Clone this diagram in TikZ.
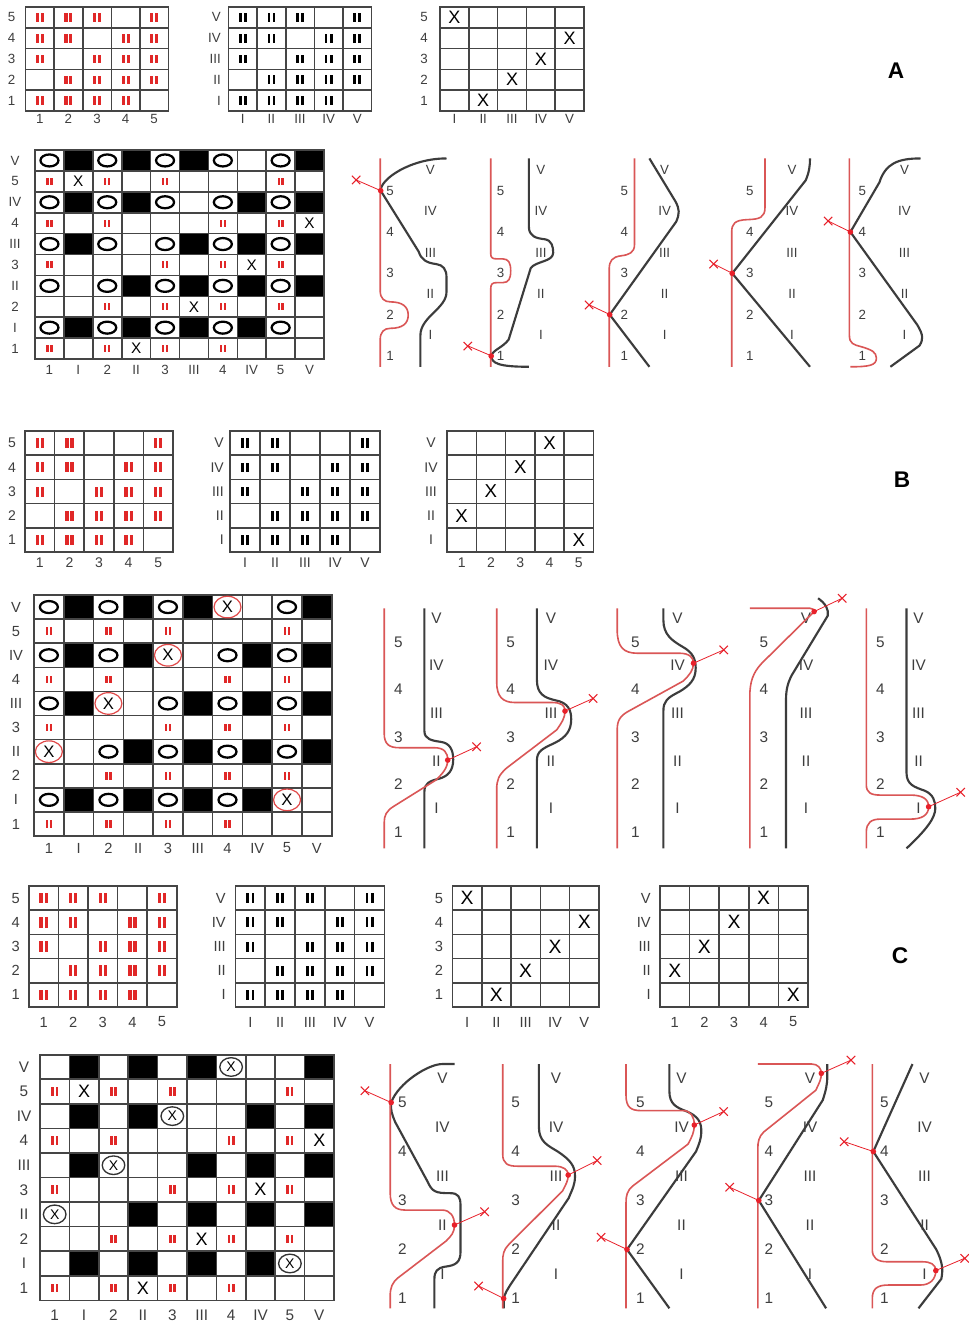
\documentclass[tikz,border=0pt]{standalone}
\usepackage{fontspec}
\setmainfont{Liberation Sans}
\usetikzlibrary{shapes.misc}
\definecolor{labgray}{HTML}{3E3E3E}
\definecolor{gridgray}{HTML}{454545}
\definecolor{markred}{HTML}{E02828}
\definecolor{curvered}{HTML}{DA5656}
\definecolor{dotred}{HTML}{E8202A}
\definecolor{curveblk}{HTML}{3C3C3C}
\definecolor{ringred}{HTML}{E04848}
\definecolor{ringblk}{HTML}{333333}
\tikzset{
  gridln/.style={draw=gridgray,line width=1.2pt,line cap=rect},
  lab/.style={text=labgray,inner sep=0pt},
  plab/.style={text=labgray,inner sep=0pt},
  xmk/.style={inner sep=0pt,text=black},
  secl/.style={inner sep=0pt,font=\bfseries\fontsize{17}{17}\selectfont},
  blk/.style={draw=curveblk,line width=1.6pt,line join=round},
  rd/.style={draw=curvered,line width=1.2pt,line join=round},
  rdot/.style={circle,fill=dotred,inner sep=0pt,minimum size=4.2pt},
  rcross/.style={cross out,draw=dotred,line width=0.8pt,inner sep=0pt,minimum size=5.5pt},
  conn/.style={draw=dotred,line width=0.6pt},
  omk/.style={draw=black,line width=1.7pt},
}
\def\patA{{1,1,1,0,1,1,1,0,1,1,1,0,1,1,1,0,1,1,1,1,1,1,1,1,0}}
\def\patB{{1,1,0,0,1,1,1,0,1,1,1,0,1,1,1,0,1,1,1,1,1,1,1,1,0}}
\def\xA{{1,5,4,3,2}}
\def\xB{{4,3,2,1,5}}
% x0 y0 ncols nrows cw rh
\newcommand\gridlines[6]{%
  \foreach \gi in {0,...,#3}{\draw[gridln] ({#1+\gi*#5},#2) -- ({#1+\gi*#5},{#2+#4*#6});}%
  \foreach \gj in {0,...,#4}{\draw[gridln] (#1,{#2+\gj*#6}) -- ({#1+#3*#5},{#2+\gj*#6});}%
}
% color cx cy hw hh gap
\newcommand\fillbars[6]{%
  \fill[#1] ({#2-#4},{#3-#5}) rectangle ({#2-#6},{#3+#5});%
  \fill[#1] ({#2+#6},{#3-#5}) rectangle ({#2+#4},{#3+#5});}
% x0 y0 cw rh pattern color hw hh gap
\newcommand\patgrid[9]{%
  \foreach \ir in {0,...,4}{\foreach \ic in {0,...,4}{%
    \pgfmathtruncatemacro\vv{#5[\ir*5+\ic]}%
    \ifnum\vv=1\relax\fillbars{#6}{#1+(\ic+0.5)*#3}{#2+(\ir+0.5)*#4}{#7}{#8}{#9}\fi}}%
  \gridlines{#1}{#2}{5}{5}{#3}{#4}}
% name x0 y0 cw rh list fontsize
\newcommand\xgrid[7]{%
  \foreach \xc [count=\ir from 0] in {#6}{%
    \node[xmk,font=\fontsize{#7}{#7}\selectfont] (#1-\ir) at ({#2+(\xc-0.5)*#4},{#3+(\ir+0.5)*#5}) {X};}%
  \gridlines{#2}{#3}{5}{5}{#4}{#5}}
% name x y0 rh list anchor fontsize
\newcommand\rowlabs[7]{%
  \foreach \lbl [count=\ir from 0] in {#5}{%
    \node[lab,anchor=#6,font=\fontsize{#7}{#7}\selectfont] (#1-\ir) at (#2,{#3+(\ir+0.5)*#4}) {\lbl};}}
% name x0 cw y list fontsize
\newcommand\collabs[6]{%
  \foreach \lbl [count=\ir from 0] in {#5}{%
    \node[lab,font=\fontsize{#6}{#6}\selectfont] (#1-\ir) at ({#2+(\ir+0.5)*#3},#4) {\lbl};}}
% name x0 y0 cw rh variant
\newcommand\biggrid[6]{%
  \foreach \RR in {0,2,...,8}{\foreach \CC in {1,3,...,9}{%
    \pgfmathtruncatemacro\ri{\RR/2}\pgfmathtruncatemacro\ci{(\CC-1)/2}%
    \pgfmathtruncatemacro\vv{\patA[\ri*5+\ci]}%
    \ifnum\vv=1\relax\fill[black] ({#2+\CC*#4},{#3+\RR*#5}) rectangle ({#2+(\CC+1)*#4},{#3+(\RR+1)*#5});\fi}}%
  \gridlines{#2}{#3}{10}{10}{#4}{#5}%
  \foreach \RR in {1,3,...,9}{\foreach \CC in {0,2,...,8}{%
    \pgfmathtruncatemacro\ri{(\RR-1)/2}\pgfmathtruncatemacro\ci{\CC/2}%
    \pgfmathtruncatemacro\vv{\patA[\ri*5+\ci]}%
    \ifnum\vv=1\relax\fillbars{markred}{#2+(\CC+0.5)*#4}{#3+(\RR+0.5)*#5}{\bhw}{\bhh}{0.8}\fi}}%
  \ifnum#6=2\relax\else
  \foreach \RR in {1,3,...,9}{\foreach \CC in {1,3,...,9}{%
    \pgfmathtruncatemacro\ri{(\RR-1)/2}\pgfmathtruncatemacro\ci{(\CC-1)/2}%
    \pgfmathtruncatemacro\xx{\xA[\ri]}%
    \ifnum\xx=\numexpr\ci+1\relax\node[xmk,font=\fontsize{\bxf}{\bxf}\selectfont] (#1-x\RR-\CC) at ({#2+(\CC+0.5)*#4},{#3+(\RR+0.5)*#5}) {X};\fi}}%
  \fi
  \foreach \RR in {0,2,...,8}{\foreach \CC in {0,2,...,8}{%
    \pgfmathtruncatemacro\ri{\RR/2}\pgfmathtruncatemacro\ci{\CC/2}%
    \pgfmathtruncatemacro\xx{\xB[\ri]}%
    \pgfmathsetmacro\cx{#2+(\CC+0.5)*#4}\pgfmathsetmacro\cy{#3+(\RR+0.5)*#5}%
    \ifnum\xx=\numexpr\ci+1\relax
      \ifcase#6\or
        \draw[omk] (\cx,\cy) ellipse [x radius=9,y radius=6];%
      \or
        \draw[draw=ringred,line width=0.9pt] (\cx,\cy) ellipse [x radius=13.5,y radius=10.8];%
        \node[xmk,font=\fontsize{12.5}{12.5}\selectfont] (#1-o\RR-\CC) at (\cx,\cy) {X};%
      \or
        \draw[draw=ringblk,line width=1pt] (\cx,\cy) ellipse [x radius=11.3,y radius=9.3];%
        \node[xmk,font=\fontsize{10.5}{10.5}\selectfont] (#1-o\RR-\CC) at (\cx,\cy) {X};%
      \fi
    \else
      \ifnum#6<3\relax\draw[omk] (\cx,\cy) ellipse [x radius=9,y radius=6];\fi
    \fi}}%
}
% name xa xR fontsize
\newcommand\panellabs[4]{%
  \foreach \lbl [count=\kk from 0] in {5,4,3,2,1}{\node[plab,font=\fontsize{#4}{#4}\selectfont] (#1-a\kk) at (#2,{2*\kk+1}) {\lbl};}%
  \foreach \lbl [count=\kk from 0] in {V,IV,III,II,I}{\node[plab,font=\fontsize{#4}{#4}\selectfont] (#1-r\kk) at (#3,{2*\kk}) {\lbl};}}
% name dotx doty crossx crossy
\newcommand\marker[5]{%
  \node[rcross] (#1x) at (#4,#5) {};%
  \node[rdot] (#1d) at (#2,#3) {};%
  \draw[conn] (#1d.center) -- (#1x.center);}

\begin{document}
\begin{tikzpicture}[x=0.75pt,y=-0.75pt]
\useasboundingbox (0,0) rectangle (969,1321);
\fill[white] (0,0) rectangle (969,1321);

% ================= A =================
\patgrid{25.5}{7}{28.6}{20.8}{\patA}{markred}{4}{4.3}{0.9}
\rowlabs{g1a}{11.5}{7}{20.8}{5,4,3,2,1}{center}{10}
\collabs{g1ac}{25.5}{28.6}{119}{1,2,3,4,5}{10}
\patgrid{228.5}{7}{28.6}{20.8}{\patA}{black}{3.9}{4.4}{1.2}
\rowlabs{g2a}{221}{7}{20.8}{V,IV,III,II,I}{east}{10}
\collabs{g2ac}{228.5}{28.6}{119}{I,II,III,IV,V}{10}
\xgrid{g3a}{440}{7}{28.8}{20.8}{1,5,4,3,2}{13.5}
\rowlabs{g3al}{424}{7}{20.8}{5,4,3,2,1}{center}{10}
\collabs{g3ac}{440}{28.8}{119}{I,II,III,IV,V}{10}
\node[secl] (secA) at (896,71) {A};

\def\bhw{3.1}\def\bhh{3.5}\def\bxf{11.5}
\biggrid{bga}{35}{150}{28.9}{20.9}{1}
\rowlabs{bgar}{15}{150}{20.9}{V,5,IV,4,III,3,II,2,I,1}{center}{10}
\collabs{bgac}{35}{28.9}{370}{1,I,2,II,3,III,4,IV,5,V}{10}

\def\ttop{-0.56}\def\tbot{9.52}
\begin{scope}[shift={(380.2,170)},yscale=20.67]
 \panellabs{pa1}{10}{50.2}{10}
 \draw[blk] (66.3,\ttop) .. controls (30,\ttop) and (0,0.45) .. (0.5,1) -- (38.5,3.95) .. controls (41,4.35) and (47,4.5) .. (56,4.55) .. controls (63,4.6) and (66.3,4.8) .. (66.3,5.2) -- (66.3,5.9) .. controls (66.3,6.7) and (40.2,7.1) .. (40.2,8.0) -- (40.2,\tbot);
 \draw[rd] (0,\ttop) -- (0,5.85) .. controls (0,6.2) and (4,6.38) .. (10,6.38) .. controls (22,6.38) and (28,6.6) .. (28,7.02) .. controls (28,7.44) and (22,7.66) .. (10,7.66) .. controls (4,7.66) and (0,7.84) .. (0,8.2) -- (0,\tbot);
 \marker{pa1}{0.5}{1}{-24.1}{0.48}
\end{scope}
\begin{scope}[shift={(490.7,170)},yscale=20.67]
 \panellabs{pa2}{10}{50.2}{10}
 \draw[blk] (38.2,\ttop) -- (38.2,2.75) .. controls (38.2,3.2) and (45,3.3) .. (54,3.35) .. controls (61,3.4) and (62.5,3.7) .. (62.5,4.0) .. controls (62.5,4.45) and (45,4.4) .. (40,4.75) -- (18,8.2) .. controls (12,8.6) and (2,8.7) .. (0.5,9.0) .. controls (1,9.35) and (8,\tbot) .. (38.2,\tbot);
 \draw[rd] (0,\ttop) -- (0,4.05) .. controls (0,4.25) and (2,4.3) .. (6,4.3) -- (12,4.3) .. controls (18,4.3) and (20,4.5) .. (20,4.88) .. controls (20,5.26) and (18,5.45) .. (12,5.45) -- (6,5.45) .. controls (2,5.45) and (0,5.5) .. (0,5.75) -- (0,\tbot);
 \marker{pa2}{0.5}{9}{-22.9}{8.52}
\end{scope}
\begin{scope}[shift={(609.2,170)},yscale=20.67]
 \panellabs{pa3}{15.2}{55.4}{10}
 \draw[blk] (40.2,\ttop) -- (66,1.5) .. controls (70.5,1.9) and (70.5,2.1) .. (67,2.5) -- (0.5,7) -- (40.2,\tbot);
 \draw[rd] (25.3,\ttop) -- (25.3,3.6) .. controls (25.3,4.0) and (20,4.1) .. (12,4.15) .. controls (3,4.2) and (0,4.4) .. (0,4.8) -- (0,\tbot);
 \marker{pa3}{0.5}{7}{-20.1}{6.53}
\end{scope}
\begin{scope}[shift={(731.7,170)},yscale=20.67]
 \panellabs{pa4}{18.1}{60.3}{10}
 \draw[blk] (78.3,\ttop) .. controls (78.3,-0.2) and (77.5,0.1) .. (74,0.5) -- (0.5,5) -- (78.3,\tbot);
 \draw[rd] (33.3,\ttop) -- (33.3,1.8) .. controls (33.3,2.3) and (28,2.38) .. (16,2.4) .. controls (3,2.42) and (0,2.6) .. (0,3.0) -- (0,\tbot);
 \marker{pa4}{0.5}{5}{-18.1}{4.55}
\end{scope}
\begin{scope}[shift={(849.4,170)},yscale=20.67]
 \panellabs{pa5}{12.9}{55.1}{10}
 \draw[blk] (71.1,\ttop) .. controls (48,\ttop) and (36,-0.3) .. (30,0.6) -- (1,3) -- (68,7.5) .. controls (74,8.0) and (74,8.2) .. (70,8.5) -- (41,\tbot);
 \draw[rd] (0,\ttop) -- (0,8.0) .. controls (0,8.4) and (4,8.45) .. (12,8.55) .. controls (22,8.7) and (27,8.8) .. (27,9.1) .. controls (27,9.45) and (20,\tbot) .. (1,\tbot);
 \marker{pa5}{1}{3}{-21.3}{2.47}
\end{scope}

% ================= B =================
\patgrid{25}{431}{29.6}{24.2}{\patB}{markred}{4.2}{5}{0.9}
\rowlabs{g1b}{12}{431}{24.2}{5,4,3,2,1}{center}{10.5}
\collabs{g1bc}{25}{29.6}{563}{1,2,3,4,5}{10.5}
\patgrid{230}{431}{30}{24.2}{\patB}{black}{4}{4.8}{1.2}
\rowlabs{g2b}{224}{431}{24.2}{V,IV,III,II,I}{east}{10.5}
\collabs{g2bc}{230}{30}{563}{I,II,III,IV,V}{10.5}
\xgrid{g3b}{447}{431}{29.3}{24.2}{4,3,2,1,5}{14}
\rowlabs{g3bl}{431}{431}{24.2}{V,IV,III,II,I}{center}{10.5}
\collabs{g3bc}{447}{29.3}{563}{1,2,3,4,5}{10.5}
\node[secl] (secB) at (902,480) {B};

\def\bhw{3.3}\def\bhh{3.8}\def\bxf{12}
\biggrid{bgb}{34}{595}{29.77}{24.1}{2}
\rowlabs{bgbr}{16}{595}{24.1}{V,5,IV,4,III,3,II,2,I,1}{center}{11}
\collabs{bgbc}{34}{29.77}{848}{1,I,2,II,3,III,4,IV,5,V}{11}

\def\ttop{-0.41}\def\tbot{9.68}
\begin{scope}[shift={(384.2,618)},yscale=23.8]
 \panellabs{pb1}{14.1}{52.2}{11.5}
 \draw[blk] (40.2,\ttop) -- (40.2,4.75) .. controls (40.2,5.1) and (48,5.15) .. (56,5.2) .. controls (66,5.25) and (69,5.55) .. (69,5.95) .. controls (69,6.4) and (64,6.65) .. (55,6.75) .. controls (45,6.85) and (40.2,6.95) .. (40.2,7.3) -- (40.2,\tbot);
 \draw[rd] (0,\ttop) -- (0,4.85) .. controls (0,5.3) and (5,5.45) .. (15,5.45) -- (50,5.45) .. controls (60,5.45) and (63.5,5.65) .. (63.5,5.97) .. controls (63.5,6.3) and (58,6.55) .. (52,6.8) -- (10,7.9) .. controls (2,8.1) and (0,8.3) .. (0,8.6) -- (0,\tbot);
 \marker{pb1}{63.5}{5.97}{92.4}{5.41}
\end{scope}
\begin{scope}[shift={(496.7,618)},yscale=23.8]
 \panellabs{pb2}{14}{54.2}{11.5}
 \draw[blk] (40.2,\ttop) -- (40.2,2.6) .. controls (40.2,3.2) and (48,3.35) .. (58,3.45) .. controls (72,3.55) and (74.5,3.9) .. (74.5,4.25) .. controls (74.5,4.7) and (70,5.0) .. (58,5.25) .. controls (45,5.5) and (40.2,5.6) .. (40.2,6.0) -- (40.2,\tbot);
 \draw[rd] (0,\ttop) -- (0,2.7) .. controls (0,3.3) and (6,3.55) .. (18,3.55) -- (55,3.55) .. controls (64,3.55) and (68.3,3.65) .. (68.3,3.91) .. controls (68.3,4.2) and (65,4.4) .. (60,4.7) -- (10,6.3) .. controls (2,6.6) and (0,6.8) .. (0,7.2) -- (0,\tbot);
 \marker{pb2}{68.3}{3.91}{96.4}{3.38}
\end{scope}
\begin{scope}[shift={(617.2,618)},yscale=23.8]
 \panellabs{pb3}{18.1}{60.3}{11.5}
 \draw[blk] (46.2,\ttop) -- (46.2,0.1) .. controls (46.2,0.7) and (55,0.95) .. (65,1.2) .. controls (76,1.45) and (78.5,1.75) .. (78.5,2.1) .. controls (78.5,2.6) and (72,2.85) .. (62,3.1) .. controls (50,3.35) and (46.2,3.5) .. (46.2,3.9) -- (46.2,\tbot);
 \draw[rd] (0,\ttop) -- (0,0.5) .. controls (0,1.2) and (6,1.48) .. (20,1.48) -- (62,1.48) .. controls (72,1.48) and (76.3,1.65) .. (76.3,1.9) .. controls (76.3,2.2) and (72,2.4) .. (66,2.65) -- (12,3.9) .. controls (3,4.1) and (0,4.3) .. (0,4.7) -- (0,\tbot);
 \marker{pb3}{76.3}{1.9}{106.5}{1.34}
\end{scope}
\begin{scope}[shift={(749.8,618)},yscale=23.8]
 \panellabs{pb4}{14.1}{56.2}{11.5}
 \draw[blk] (68.3,-0.83) .. controls (76,-0.6) and (79,-0.35) .. (78,-0.1) -- (42,2.4) .. controls (37,2.8) and (36.2,3.1) .. (36.2,3.5) -- (36.2,\tbot);
 \draw[rd] (0,\ttop) -- (60,\ttop) .. controls (63,\ttop) and (64.3,-0.35) .. (64.3,-0.27) -- (12,1.9) .. controls (3,2.3) and (0,2.7) .. (0,3.3) -- (0,\tbot);
 \marker{pb4}{64.3}{-0.27}{92.4}{-0.83}
\end{scope}
\begin{scope}[shift={(866.3,618)},yscale=23.8]
 \panellabs{pb5}{14.1}{52.2}{11.5}
 \draw[blk] (40.2,\ttop) -- (40.2,6.5) .. controls (40.2,7.0) and (48,7.1) .. (58,7.25) .. controls (67,7.4) and (69,7.7) .. (69,8.0) .. controls (69,8.4) and (60,8.9) .. (40.2,\tbot);
 \draw[rd] (0,\ttop) -- (0,7.0) .. controls (0,7.35) and (5,7.44) .. (14,7.44) -- (44,7.44) .. controls (56,7.44) and (62.3,7.6) .. (62.3,7.93) .. controls (62.3,8.3) and (55,8.45) .. (44,8.45) -- (14,8.45) .. controls (5,8.45) and (0,8.6) .. (0,9.0) -- (0,\tbot);
 \marker{pb5}{62.3}{7.93}{94.4}{7.32}
\end{scope}

% ================= C =================
\patgrid{28.8}{886}{29.6}{24.2}{\patA}{markred}{4.2}{5.3}{0.9}
\rowlabs{g1c}{15.7}{886}{24.2}{5,4,3,2,1}{center}{11}
\collabs{g1cc}{28.8}{29.6}{1022}{1,2,3,4,5}{11}
\patgrid{235.4}{886}{29.8}{24.2}{\patA}{black}{4}{5}{1.2}
\rowlabs{g2c}{226}{886}{24.2}{V,IV,III,II,I}{east}{11}
\collabs{g2cc}{235.4}{29.8}{1022}{I,II,III,IV,V}{11}
\xgrid{g3c}{452.4}{886}{29.3}{24.2}{1,5,4,3,2}{14.5}
\rowlabs{g3cl}{439}{886}{24.2}{5,4,3,2,1}{center}{11}
\collabs{g3cc}{452.4}{29.3}{1022}{I,II,III,IV,V}{11}
\xgrid{g4c}{660}{886}{29.6}{24.2}{4,3,2,1,5}{14.5}
\rowlabs{g4cl}{651}{886}{24.2}{V,IV,III,II,I}{east}{11}
\collabs{g4cc}{660}{29.6}{1022}{1,2,3,4,5}{11}
\node[secl] (secC) at (900,956) {C};

\def\bhw{3.5}\def\bhh{4.4}\def\bxf{13.5}
\biggrid{bgc}{40}{1054.7}{29.4}{24.56}{3}
\rowlabs{bgcr}{24}{1054.7}{24.56}{V,5,IV,4,III,3,II,2,I,1}{center}{11.5}
\collabs{bgcc}{40}{29.4}{1315}{1,I,2,II,3,III,4,IV,5,V}{11.5}

\def\ttop{-0.57}\def\tbot{9.4}
\begin{scope}[shift={(390.2,1078)},yscale=24.5]
 \panellabs{pc1}{12.1}{52.2}{11.5}
 \draw[blk] (64.3,\ttop) -- (52,\ttop) .. controls (38,\ttop) and (8,0.2) .. (1,1) .. controls (0,1.3) and (2,1.5) .. (5,1.8) -- (37,4.2) .. controls (42,4.65) and (45,4.7) .. (60,4.7) .. controls (68,4.7) and (70.3,4.85) .. (70.3,5.2) -- (70.3,7.1) .. controls (70.3,7.5) and (66,7.65) .. (55,7.7) .. controls (47,7.75) and (44.2,7.9) .. (44.2,8.2) -- (44.2,\tbot);
 \draw[rd] (0,\ttop) -- (0,4.7) .. controls (0,5.2) and (5,5.39) .. (15,5.39) -- (52,5.39) .. controls (60,5.39) and (64.3,5.65) .. (64.3,6.0) .. controls (64.3,6.3) and (61,6.45) .. (56,6.65) -- (8,8.15) .. controls (2,8.35) and (0,8.55) .. (0,8.9) -- (0,\tbot);
 \marker{pc1a}{1}{1}{-25.3}{0.52}
 \marker{pc1b}{64.3}{6.0}{94.4}{5.46}
\end{scope}
\begin{scope}[shift={(502.7,1078)},yscale=24.5]
 \panellabs{pc2}{12.9}{53.3}{11.5}
 \draw[blk] (36.2,\ttop) -- (36.2,2.0) .. controls (36.2,2.6) and (45,2.75) .. (55,3.0) .. controls (68,3.35) and (72.3,3.6) .. (72.3,4.0) .. controls (72.3,4.35) and (70,4.5) .. (66,4.9) -- (10,8.3) .. controls (5,8.6) and (2,8.8) .. (1,9.0) -- (1,\tbot);
 \draw[rd] (0,\ttop) -- (0,3.1) .. controls (0,3.5) and (5,3.6) .. (15,3.6) -- (52,3.6) .. controls (61,3.6) and (65.5,3.75) .. (65.5,3.96) .. controls (65.5,4.2) and (63,4.35) .. (60,4.6) -- (6,6.8) .. controls (1,7.0) and (0,7.2) .. (0,7.5) -- (0,\tbot);
 \marker{pc2a}{1}{9.0}{-24.1}{8.49}
 \marker{pc2b}{65.5}{3.96}{94.4}{3.37}
\end{scope}
\begin{scope}[shift={(626,1078)},yscale=24.5]
 \panellabs{pc3}{14.5}{55.5}{11.5}
 \draw[blk] (43.4,\ttop) -- (43.4,0.55) .. controls (43.4,1.05) and (50,1.2) .. (60,1.35) .. controls (72,1.55) and (75.3,1.8) .. (75.3,2.15) .. controls (75.3,2.5) and (73,2.7) .. (70,3.0) -- (1,7) -- (43.4,\tbot);
 \draw[rd] (0,\ttop) -- (0,0.7) .. controls (0,1.2) and (5,1.33) .. (15,1.33) -- (57,1.33) .. controls (65,1.33) and (68.3,1.6) .. (68.3,1.92) .. controls (68.3,2.2) and (66,2.4) .. (62,2.7) -- (7,4.4) .. controls (1,4.6) and (0,4.8) .. (0,5.1) -- (0,\tbot);
 \marker{pc3a}{1}{7}{-24.9}{6.5}
 \marker{pc3b}{68.3}{1.92}{97.6}{1.37}
\end{scope}
\begin{scope}[shift={(757.8,1078)},yscale=24.5]
 \panellabs{pc4}{11.2}{52.2}{11.5}
 \draw[blk] (69.5,\ttop) -- (69.5,-0.1) .. controls (69.5,0.3) and (68,0.5) .. (65,0.9) -- (1,5) -- (68.3,\tbot);
 \draw[rd] (0,\ttop) -- (54,\ttop) .. controls (60,\ttop) and (63.5,-0.4) .. (63.5,-0.19) .. controls (63.5,0.05) and (62,0.15) .. (58,0.5) -- (6,2.2) .. controls (1,2.4) and (0,2.6) .. (0,2.9) -- (0,\tbot);
 \marker{pc4a}{63.5}{-0.19}{93.2}{-0.73}
 \marker{pc4b}{1}{5}{-28.1}{4.46}
\end{scope}
\begin{scope}[shift={(872.3,1078)},yscale=24.5]
 \panellabs{pc5}{12.1}{52.3}{11.5}
 \draw[blk] (40.2,\ttop) -- (1,3) -- (64,7.0) .. controls (70,7.5) and (71,7.8) .. (69,8.2) -- (46.2,\tbot);
 \draw[rd] (0,\ttop) -- (0,7.0) .. controls (0,7.35) and (5,7.5) .. (15,7.5) -- (50,7.5) .. controls (58,7.5) and (63.5,7.6) .. (63.5,7.86) .. controls (63.5,8.2) and (58,8.45) .. (48,8.45) -- (16,8.45) .. controls (5,8.45) and (0,8.6) .. (0,9.0) -- (0,\tbot);
 \marker{pc5a}{1}{3}{-28.1}{2.6}
 \marker{pc5b}{63.5}{7.86}{92.4}{7.36}
\end{scope}
\end{tikzpicture}
\end{document}
